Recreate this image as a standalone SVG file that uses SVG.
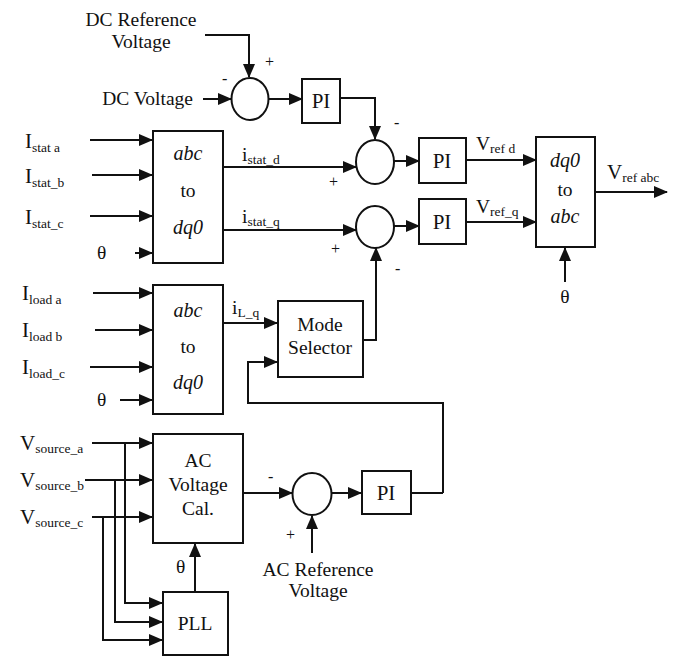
<svg xmlns="http://www.w3.org/2000/svg" width="675" height="657" viewBox="0 0 675 657">
<style>
text{font-family:"Liberation Serif","Times New Roman",serif;fill:#111;}
.t{font-size:19.5px;}
.big{font-size:21px;}
.sub{font-size:13.5px;}
.it{font-style:italic;font-size:20px;}
.sign{font-size:16px;}
.box{fill:#fff;stroke:#111;stroke-width:2;}
.sum{fill:#fff;stroke:#111;stroke-width:2;}
.w{fill:none;stroke:#111;stroke-width:2;}
.a{fill:none;stroke:#111;stroke-width:2;marker-end:url(#ah);}
</style>
<defs>
<marker id="ah" markerUnits="userSpaceOnUse" markerWidth="14" markerHeight="12" refX="13" refY="6" orient="auto">
<path d="M0,0 L14,6 L0,12 z" fill="#111"/>
</marker>
</defs>
<rect width="675" height="657" fill="#fff"/>

<g id="connectors">
<path class="a" d="M205,35 H249 V77"/>
<path class="a" d="M203,99 H231"/>
<path class="a" d="M269,99 H302"/>
<path class="a" d="M340,98 H375 V139"/>
<path class="a" d="M223,167 H356"/>
<path class="a" d="M223,230 H356"/>
<path class="a" d="M394,161 H419"/>
<path class="a" d="M394,226 H419"/>
<path class="a" d="M466,160 H536"/>
<path class="a" d="M466,222 H536"/>
<path class="a" d="M595,192 H667"/>
<path class="a" d="M565,282 V248"/>
<path class="a" d="M90,140 H152"/>
<path class="a" d="M92,175 H152"/>
<path class="a" d="M90,216 H152"/>
<path class="a" d="M135,253 H152"/>
<path class="a" d="M93,293 H152"/>
<path class="a" d="M95,330 H152"/>
<path class="a" d="M90,367 H152"/>
<path class="a" d="M120,400 H152"/>
<path class="a" d="M223,323 H277"/>
<path class="a" d="M363,340 H376 V248"/>
<path class="a" d="M443,493 H443 V403 H248 V362 H277"/>
<path class="a" d="M92,443 H152"/>
<path class="a" d="M85,480 H152"/>
<path class="a" d="M92,517 H152"/>
<path class="a" d="M125,443 V603 H162"/>
<path class="a" d="M115,480 V622 H162"/>
<path class="a" d="M103,517 V640 H162"/>
<path class="a" d="M195,592 V544"/>
<path class="a" d="M243,493 H292"/>
<path class="a" d="M332,493 H361"/>
<path class="a" d="M312,553 V516"/>
<path class="w" d="M411,493 H443"/>
</g>

<g id="label-dcref">
<text class="t" x="141" y="26" text-anchor="middle">DC Reference</text>
<text class="t" x="141" y="48" text-anchor="middle">Voltage</text>
</g>
<g id="label-dcv"><text class="t" x="193" y="105" text-anchor="end">DC Voltage</text></g>

<g id="sum1">
<ellipse class="sum" cx="250" cy="99" rx="18.5" ry="21"/>
<text class="sign" x="265" y="67">+</text>
<text class="sign" x="222" y="84">-</text>
</g>
<g id="pi1">
<rect class="box" x="302" y="79" width="38" height="44"/>
<text class="big" x="321" y="108" text-anchor="middle">PI</text>
</g>

<g id="abc2dq0-stat">
<rect class="box" x="153" y="131" width="70" height="132"/>
<text class="it" x="188" y="160" text-anchor="middle">abc</text>
<text class="t" x="188" y="197" text-anchor="middle">to</text>
<text class="it" x="188" y="234" text-anchor="middle">dq0</text>
</g>
<g id="labels-stat">
<text class="big" x="25" y="148">I<tspan class="sub" dy="4">stat  a</tspan></text>
<text class="big" x="25" y="183">I<tspan class="sub" dy="4">stat_b</tspan></text>
<text class="big" x="25" y="224">I<tspan class="sub" dy="4">stat_c</tspan></text>
<text class="t" x="97" y="259">θ</text>
<text class="t" x="242" y="161">i<tspan class="sub" dy="3">stat_d</tspan></text>
<text class="t" x="242" y="223">i<tspan class="sub" dy="3">stat_q</tspan></text>
</g>

<g id="sum2">
<ellipse class="sum" cx="375" cy="162" rx="19" ry="22"/>
<text class="sign" x="394" y="128">-</text>
<text class="sign" x="329" y="187">+</text>
</g>
<g id="sum3">
<ellipse class="sum" cx="375" cy="227" rx="19" ry="21"/>
<text class="sign" x="331" y="254">+</text>
<text class="sign" x="395" y="274">-</text>
</g>
<g id="pi2">
<rect class="box" x="419" y="138" width="47" height="45"/>
<text class="big" x="442" y="168" text-anchor="middle">PI</text>
</g>
<g id="pi3">
<rect class="box" x="419" y="199" width="47" height="45"/>
<text class="big" x="442" y="229" text-anchor="middle">PI</text>
</g>
<g id="labels-vref">
<text class="t" x="476" y="150">V<tspan class="sub" dy="3">ref  d</tspan></text>
<text class="t" x="476" y="213">V<tspan class="sub" dy="3">ref_q</tspan></text>
<text class="big" x="607" y="179">V<tspan class="sub" dy="3">ref abc</tspan></text>
</g>
<g id="dq02abc">
<rect class="box" x="536" y="137" width="59" height="110"/>
<text class="it" x="565" y="167" text-anchor="middle">dq0</text>
<text class="t" x="565" y="196" text-anchor="middle">to</text>
<text class="it" x="565" y="223" text-anchor="middle">abc</text>
<text class="t" x="565" y="303" text-anchor="middle">θ</text>
</g>

<g id="abc2dq0-load">
<rect class="box" x="153" y="285" width="70" height="129"/>
<text class="it" x="188" y="317" text-anchor="middle">abc</text>
<text class="t" x="188" y="353" text-anchor="middle">to</text>
<text class="it" x="188" y="389" text-anchor="middle">dq0</text>
</g>
<g id="labels-load">
<text class="big" x="22" y="300">I<tspan class="sub" dy="4">load  a</tspan></text>
<text class="big" x="22" y="337">I<tspan class="sub" dy="4">load  b</tspan></text>
<text class="big" x="22" y="374">I<tspan class="sub" dy="4">load_c</tspan></text>
<text class="t" x="97" y="406">θ</text>
<text class="t" x="232" y="314">i<tspan class="sub" dy="3">L_q</tspan></text>
</g>
<g id="mode-selector">
<rect class="box" x="278" y="301" width="85" height="76"/>
<text class="t" x="320" y="331" text-anchor="middle">Mode</text>
<text class="t" x="320" y="354" text-anchor="middle">Selector</text>
</g>

<g id="labels-source">
<text class="big" x="20" y="450">V<tspan class="sub" dy="3">source_a</tspan></text>
<text class="big" x="20" y="487">V<tspan class="sub" dy="3">source_b</tspan></text>
<text class="big" x="20" y="524">V<tspan class="sub" dy="3">source_c</tspan></text>
</g>
<g id="ac-voltage-cal">
<rect class="box" x="153" y="434" width="90" height="109"/>
<text class="t" x="198" y="467" text-anchor="middle">AC</text>
<text class="t" x="198" y="491" text-anchor="middle">Voltage</text>
<text class="t" x="198" y="515" text-anchor="middle">Cal.</text>
<text class="t" x="176" y="573">θ</text>
</g>
<g id="pll">
<rect class="box" x="163" y="592" width="65" height="63"/>
<text class="t" x="195" y="630" text-anchor="middle">PLL</text>
</g>
<g id="sum4">
<ellipse class="sum" cx="312" cy="494" rx="19.5" ry="21"/>
<text class="sign" x="268" y="482">-</text>
<text class="sign" x="286" y="540">+</text>
</g>
<g id="pi4">
<rect class="box" x="362" y="471" width="49" height="43"/>
<text class="big" x="386" y="500" text-anchor="middle">PI</text>
</g>
<g id="label-acref">
<text class="t" x="318" y="576" text-anchor="middle">AC Reference</text>
<text class="t" x="318" y="597" text-anchor="middle">Voltage</text>
</g>
</svg>
